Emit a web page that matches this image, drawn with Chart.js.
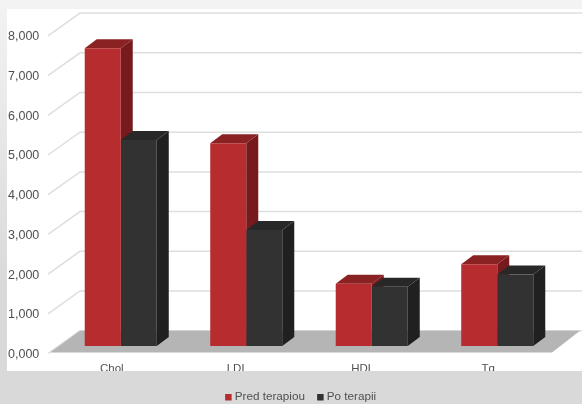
<!DOCTYPE html>
<html>
<head>
<meta charset="utf-8">
<style>
    html, body { margin: 0; padding: 0; background: #d9d9d9; overflow: hidden; }
    canvas { display: block; }
</style>
<script src="https://cdn.jsdelivr.net/npm/chart.js@4"></script>
</head>
<body>
<canvas id="myChart" width="582" height="404"></canvas>
<script>
const categories = ['Chol', 'LDL', 'HDL', 'Tg'];
const predTerapiou = [7.5, 5.11, 1.57, 2.06];
const poTerapii = [5.19, 2.92, 1.49, 1.8];
const yTickLabels = ['0,000', '1,000', '2,000', '3,000', '4,000', '5,000', '6,000', '7,000', '8,000'];

// depth of the fake 3d boxes
const depthX = 12;
const depthY = 9;

const faces = [
    { front: '#b72c2e', side: '#761a1d', top: '#8a2123' },
    { front: '#323232', side: '#202020', top: '#282828' }
];

function pageGradient(ctx) {
    const g = ctx.createLinearGradient(0, 0, 0, 290);
    g.addColorStop(0, '#f3f3f3');
    g.addColorStop(1, '#d9d9d9');
    return g;
}

function poly(ctx, color, pts) {
    ctx.fillStyle = color;
    ctx.beginPath();
    ctx.moveTo(pts[0][0], pts[0][1]);
    for (var i = 1; i < pts.length; i++) {
        ctx.lineTo(pts[i][0], pts[i][1]);
    }
    ctx.closePath();
    ctx.fill();
}

const panel = {
    id: 'panel',
    beforeDraw(chart) {
        const ctx = chart.ctx;
        ctx.save();
        ctx.fillStyle = pageGradient(ctx);
        ctx.fillRect(0, 0, chart.width, chart.height);
        ctx.fillStyle = '#ffffff';
        ctx.fillRect(7, 9, chart.width - 7, 362);
        ctx.restore();
    }
};

const walls = {
    id: 'walls',
    beforeDatasetsDraw(chart) {
        const ctx = chart.ctx;
        const y = chart.scales.y;
        const area = chart.chartArea;
        ctx.save();

        // x labels are cut off by the lower band
        ctx.fillStyle = '#d9d9d9';
        ctx.fillRect(0, 371, chart.width, 16);

        // gridlines run along the left wall and then the back wall
        ctx.strokeStyle = '#dedede';
        ctx.lineWidth = 1.5;
        y.ticks.forEach(function(t) {
            const py = y.getPixelForValue(t.value);
            ctx.beginPath();
            ctx.moveTo(area.left - 10, py + 7.5);
            ctx.lineTo(area.left + 22, py - 15.3);
            ctx.lineTo(chart.width, py - 15.3);
            ctx.stroke();
        });

        // floor
        const y0 = y.getPixelForValue(0);
        poly(ctx, '#b5b5b5', [
            [area.left - 8, y0 + 6.5],
            [area.right - 8, y0 + 6.5],
            [area.right + 20, y0 - 15.3],
            [area.left + 22, y0 - 15.3]
        ]);

        // top and side of each box, the native bars are the front faces
        chart.data.datasets.forEach(function(ds, d) {
            chart.getDatasetMeta(d).data.forEach(function(bar) {
                const left = bar.x - bar.width / 2;
                const right = bar.x + bar.width / 2;
                poly(ctx, faces[d].side, [
                    [right, bar.y],
                    [right + depthX, bar.y - depthY],
                    [right + depthX, bar.base - depthY],
                    [right, bar.base]
                ]);
                poly(ctx, faces[d].top, [
                    [left, bar.y],
                    [left + depthX, bar.y - depthY],
                    [right + depthX, bar.y - depthY],
                    [right, bar.y]
                ]);
            });
        });
        ctx.restore();
    }
};

window.addEventListener('load', function() {
    Chart.defaults.font.family = '"Liberation Sans", sans-serif';
    Chart.defaults.color = '#505050';

    new Chart(document.getElementById('myChart'), {
        type: 'bar',
        data: {
            labels: categories,
            datasets: [
                { label: 'Pred terapiou', data: predTerapiou, backgroundColor: faces[0].front },
                { label: 'Po terapii', data: poTerapii, backgroundColor: faces[1].front }
            ]
        },
        options: {
            responsive: false,
            animation: false,
            // negative bottom pushes the legend lower than its built-in margin allows
            layout: { padding: { left: 44, right: 22, top: 28.4, bottom: -9 } },
            datasets: { bar: { barPercentage: 1, categoryPercentage: 0.574 } },
            scales: {
                x: {
                    grid: { display: false, drawTicks: false },
                    border: { display: false },
                    ticks: { padding: 16, labelOffset: -9, font: { size: 11.5 }, maxRotation: 0 },
                    afterFit: function(scale) {
                        scale.height = 67 - scale.chart.legend.height;
                    }
                },
                y: {
                    min: 0,
                    max: 8,
                    grid: { display: false, drawTicks: false },
                    border: { display: false },
                    ticks: {
                        stepSize: 1,
                        // mirror avoids the label clip, the labels sit left of the narrow axis box
                        mirror: true,
                        padding: -50,
                        labelOffset: 8.5,
                        font: { size: 12.5 },
                        callback: function(v, i) { return yTickLabels[i]; }
                    },
                    afterFit: function(scale) {
                        scale.width = 14;
                    }
                }
            },
            plugins: {
                tooltip: { enabled: false },
                legend: {
                    position: 'bottom',
                    labels: {
                        usePointStyle: true,
                        pointStyle: 'rect',
                        boxWidth: 1,
                        boxHeight: 6.5,
                        padding: 15,
                        font: { size: 11.7 }
                    }
                }
            }
        },
        plugins: [panel, walls]
    });
});
</script>
</body>
</html>
